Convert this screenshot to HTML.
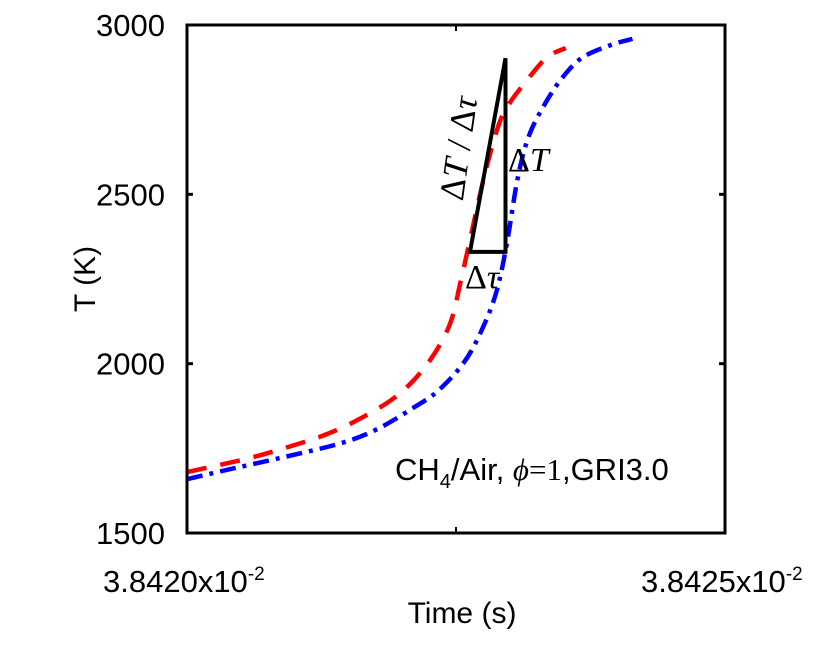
<!DOCTYPE html>
<html><head><meta charset="utf-8"><style>
body{margin:0;background:#fff}
svg text{font-family:"Liberation Sans",Arial,sans-serif}
.serif{font-family:"Liberation Serif","DejaVu Serif",serif}
</style></head><body>
<svg width="822" height="649" viewBox="0 0 822 649" xmlns="http://www.w3.org/2000/svg">
<rect width="822" height="649" fill="#fff"/>
<g id="series"></g>
<rect x="187" y="25" width="538" height="508" fill="none" stroke="#000" stroke-width="3"/>
<g id="ticks"></g>
<text transform="translate(95,279) rotate(-90)" text-anchor="middle" font-size="30">T (K)</text>
<text x="462" y="623" text-anchor="middle" font-size="30">Time (s)</text>
<text x="103" y="592" font-size="31">3.8420x10<tspan dy="-12" font-size="19">-2</tspan></text>
<text x="641" y="592" font-size="31">3.8425x10<tspan dy="-12" font-size="19">-2</tspan></text>
<text class="serif" transform="translate(470,150) rotate(-82)" text-anchor="middle" font-size="35">Δ<tspan font-style="italic">T</tspan> / Δ<tspan font-style="italic">τ</tspan></text>
<text class="serif" x="508" y="171" font-size="34">Δ<tspan font-style="italic">T</tspan></text>
<text class="serif" x="465" y="288" font-size="34">Δ<tspan font-style="italic">τ</tspan></text>
<text x="395" y="480" font-size="31">CH<tspan dy="8" font-size="20">4</tspan><tspan dy="-8">/Air, </tspan><tspan class="serif" font-style="italic">ϕ</tspan><tspan class="serif">=1</tspan>,GRI3.0</text>
</svg>
<script>
const xTickLabels=["3.8420x10^-2","3.8425x10^-2"];
const yTicks=[1500,2000,2500,3000];
const redT=[0,0.54,0.94,1.30,1.64,1.97,2.24,2.44,2.54,2.64,2.77,2.90,3.0,3.14,3.34,3.52];
const redV=[1680,1718,1754,1792,1843,1910,2002,2114,2238,2380,2563,2708,2770,2829,2903,2932];
const blueT=[0,0.45,0.94,1.44,1.77,2.10,2.33,2.57,2.73,2.87,2.97,3.07,3.17,3.31,3.48,3.67,3.94,4.14];
const blueV=[1659,1692,1727,1766,1807,1869,1919,2002,2093,2206,2350,2542,2666,2758,2841,2903,2941,2959];
const triT=[2.63,2.96,2.96];
const triV=[2330,2330,2902];
const X0=187,X1=725,Y0=533,Y1=25;
const xs=t=>X0+t/5*(X1-X0);
const ys=v=>Y0-(v-1500)/1500*(Y0-Y1);
const NS="http://www.w3.org/2000/svg";
const g=document.getElementById('series'), tg=document.getElementById('ticks');
function pathD(T,V){
  const p=T.map((t,i)=>[xs(t),ys(V[i])]);
  let d="M"+p[0].join(",");
  for(let i=0;i<p.length-1;i++){
    const p0=p[i-1]||p[i],p1=p[i],p2=p[i+1],p3=p[i+2]||p2;
    const c1=[p1[0]+(p2[0]-p0[0])/6,p1[1]+(p2[1]-p0[1])/6];
    const c2=[p2[0]-(p3[0]-p1[0])/6,p2[1]-(p3[1]-p1[1])/6];
    d+=" C"+c1.join(",")+" "+c2.join(",")+" "+p2.join(",");
  }
  return d;
}
let e=document.createElementNS(NS,'path');
e.setAttribute('d',pathD(redT,redV));e.setAttribute('fill','none');e.setAttribute('stroke','#f00');e.setAttribute('stroke-width','4.5');e.setAttribute('stroke-dasharray','20 14');


g.appendChild(e);
e=document.createElementNS(NS,'path');
e.setAttribute('d',pathD(blueT,blueV));e.setAttribute('fill','none');e.setAttribute('stroke','#00f');e.setAttribute('stroke-width','4.5');e.setAttribute('stroke-dasharray','16 7 4 7');


g.appendChild(e);
e=document.createElementNS(NS,'polygon');
e.setAttribute('points',triT.map((t,i)=>xs(t)+","+ys(triV[i])).join(" "));
e.setAttribute('fill','none');e.setAttribute('stroke','#000');e.setAttribute('stroke-width','4');


g.appendChild(e);
yTicks.forEach(v=>{
  const y=ys(v);
  [[X0,X0+6],[X1-6,X1]].forEach(([a,b])=>{
    const l=document.createElementNS(NS,'line');
    l.setAttribute('x1',a);l.setAttribute('x2',b);l.setAttribute('y1',y);l.setAttribute('y2',y);l.setAttribute('stroke','#000');l.setAttribute('stroke-width','3');
    
    
    tg.appendChild(l);
  });
  const t=document.createElementNS(NS,'text');
  t.setAttribute('x',X0-22);t.setAttribute('y',y+11);t.setAttribute('text-anchor','end');t.setAttribute('font-size','31');
  t.textContent=v;
  
  
  tg.appendChild(t);
});
[2.5].forEach(tv=>{
  const x=xs(tv);
  [[Y0-6,Y0],[Y1,Y1+6]].forEach(([a,b])=>{
    const l=document.createElementNS(NS,'line');
    l.setAttribute('x1',x);l.setAttribute('x2',x);l.setAttribute('y1',a);l.setAttribute('y2',b);l.setAttribute('stroke','#000');l.setAttribute('stroke-width','2');
    
    
    tg.appendChild(l);
  });
});
</script>
</body></html>
